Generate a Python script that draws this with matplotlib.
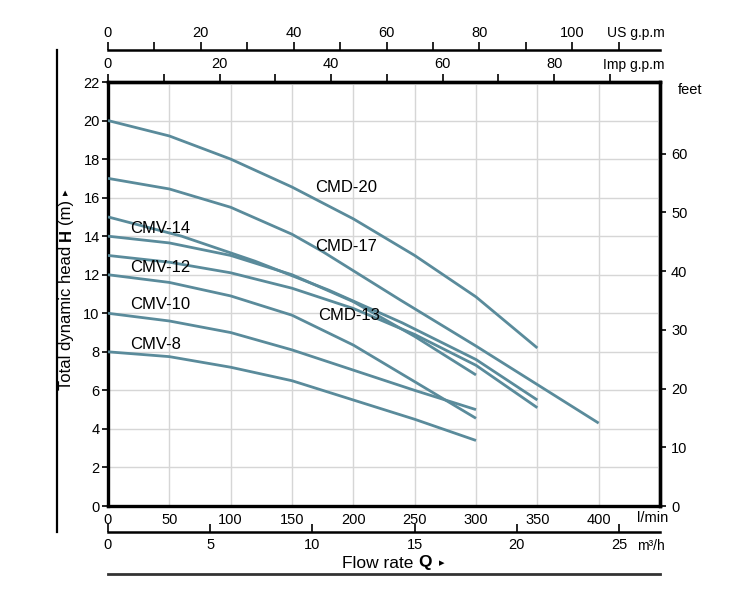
import matplotlib
matplotlib.use("Agg")
import matplotlib.pyplot as plt
from matplotlib.lines import Line2D
from matplotlib.ticker import MultipleLocator

plt.rcParams['font.family'] = ['Liberation Sans', 'DejaVu Sans']

# ---------------- data (flow in l/min, head in m) ----------------
cmd20_q = [0, 50, 100, 150, 200, 250, 300, 350]
cmd20_h = [20, 19.2, 18.0, 16.55, 14.9, 13.0, 10.85, 8.2]
cmd17_q = [0, 50, 100, 150, 175, 238, 300, 350, 400]
cmd17_h = [17, 16.45, 15.5, 14.1, 13.2, 10.7, 8.3, 6.3, 4.3]
cmd15_q = [0, 60, 120, 180, 240, 300, 350]
cmd15_h = [15, 14.0, 12.7, 11.2, 9.5, 7.6, 5.5]
cmd13_q = [0, 50, 100, 150, 200, 250, 300, 350]
cmd13_h = [13, 12.65, 12.1, 11.3, 10.25, 8.9, 7.3, 5.1]
cmv14_q = [0, 50, 100, 150, 200, 250, 300]
cmv14_h = [14, 13.65, 13.0, 12.0, 10.6, 8.8, 6.8]
cmv12_q = [0, 50, 100, 150, 200, 250, 300]
cmv12_h = [12.0, 11.6, 10.9, 9.9, 8.35, 6.45, 4.55]
cmv10_q = [0, 50, 100, 150, 200, 250, 300]
cmv10_h = [10, 9.6, 9.0, 8.1, 7.05, 6.0, 5.0]
cmv8_q = [0, 50, 100, 150, 200, 250, 300]
cmv8_h = [8, 7.75, 7.2, 6.5, 5.5, 4.5, 3.4]

lpm_ticks = [0, 50, 100, 150, 200, 250, 300, 350, 400]
head_ticks = [0, 2, 4, 6, 8, 10, 12, 14, 16, 18, 20, 22]
feet_ticks = [0, 10, 20, 30, 40, 50, 60]
us_ticks = [0, 20, 40, 60, 80, 100]
imp_ticks = [0, 20, 40, 60, 80]
m3h_ticks = [0, 5, 10, 15, 20, 25]

# unit conversions
LPM_PER_USGPM = 3.78541
LPM_PER_IMPGPM = 4.54609
LPM_PER_M3H = 1000 / 60
FT_PER_M = 3.28084

series = [
    ("CMD-20", cmd20_q, cmd20_h),
    ("CMD-17", cmd17_q, cmd17_h),
    ("", cmd15_q, cmd15_h),
    ("CMD-13", cmd13_q, cmd13_h),
    ("CMV-14", cmv14_q, cmv14_h),
    ("CMV-12", cmv12_q, cmv12_h),
    ("CMV-10", cmv10_q, cmv10_h),
    ("CMV-8", cmv8_q, cmv8_h),
]

# ---------------- layout helpers ----------------
W, H = 750, 600
fig = plt.figure(figsize=(7.5, 6), dpi=100)
fig.patch.set_facecolor('white')


def fx(px):
    return px / W


def fy(py):
    return 1 - py / H


QMAX = 450
ax = fig.add_axes([fx(108), fy(506), fx(660) - fx(108), fy(82) - fy(506)])
ax.set_xlim(0, QMAX)
ax.set_ylim(0, 22)
ax.set_xticks(lpm_ticks)
ax.set_yticks(head_ticks)
ax.grid(True, color='#d6d6d6', lw=1.0)
ax.set_axisbelow(True)
for s in ax.spines.values():
    s.set_linewidth(2.4)
    s.set_color('black')
ax.tick_params(axis='x', length=0, pad=5, labelsize=10.5)
ax.tick_params(axis='y', length=4, width=1.2, pad=2, labelsize=10.5)

LINE_COLOR = '#5a8b9b'
for name, q, h in series:
    ax.plot(q, h, color=LINE_COLOR, lw=2.0, solid_capstyle='butt',
            solid_joinstyle='round', zorder=3)

label_pos = {
    "CMD-20": (169, 16.55),
    "CMD-17": (169, 13.45),
    "CMD-13": (171, 9.9),
    "CMV-14": (18, 14.4),
    "CMV-12": (18, 12.35),
    "CMV-10": (18, 10.45),
    "CMV-8": (18, 8.4),
}
for name, q, h in series:
    if name in label_pos:
        x, y = label_pos[name]
        ax.text(x, y, name, fontsize=12, ha='left', va='center', zorder=5)

# right axis: feet
sec_r = ax.secondary_yaxis('right', functions=(lambda m: m * FT_PER_M, lambda f: f / FT_PER_M))
sec_r.set_yticks(feet_ticks)
sec_r.tick_params(length=4, width=1.2, pad=4, labelsize=10.5)
sec_r.spines['right'].set_linewidth(2.4)
fig.text(fx(690), fy(90), 'feet', ha='center', va='center', fontsize=10.5)

# top axis: Imp g.p.m
sec_t = ax.secondary_xaxis('top', functions=(lambda l: l / LPM_PER_IMPGPM, lambda g: g * LPM_PER_IMPGPM))
sec_t.set_xticks(imp_ticks)
sec_t.xaxis.set_minor_locator(MultipleLocator(10))
sec_t.tick_params(which='both', direction='out', length=6, width=1.2, pad=2, labelsize=10.5)
sec_t.spines['top'].set_linewidth(2.4)
fig.text(fx(634), fy(65), 'Imp g.p.m', ha='center', va='center', fontsize=10)

# US g.p.m axis (separate line)
ax_us = fig.add_axes([fx(108), fy(50), fx(660) - fx(108), 0.0001])
ax_us.set_xlim(0, QMAX / LPM_PER_USGPM)
for k in ['left', 'right', 'bottom']:
    ax_us.spines[k].set_visible(False)
ax_us.spines['top'].set_linewidth(1.8)
ax_us.set_yticks([])
ax_us.xaxis.set_ticks_position('top')
ax_us.set_xticks(us_ticks)
ax_us.xaxis.set_minor_locator(MultipleLocator(10))
ax_us.tick_params(which='both', direction='out', length=6, width=1.2, pad=1, labelsize=10.5)
ax_us.patch.set_visible(False)
fig.text(fx(636), fy(33), 'US g.p.m', ha='center', va='center', fontsize=10)

# l/min label
fig.text(fx(653), fy(518), 'l/min', ha='center', va='center', fontsize=10.5)

# m3/h axis
ax_m3 = fig.add_axes([fx(108), fy(532), fx(660) - fx(108), 0.0001])
ax_m3.set_xlim(0, QMAX / LPM_PER_M3H)
for k in ['left', 'right', 'top']:
    ax_m3.spines[k].set_visible(False)
ax_m3.spines['bottom'].set_linewidth(1.8)
ax_m3.set_yticks([])
ax_m3.set_xticks(m3h_ticks)
ax_m3.tick_params(direction='in', length=6, width=1.2, pad=4, labelsize=10.5)
ax_m3.patch.set_visible(False)
fig.text(fx(637), fy(546), 'm³/h', ha='left', va='center', fontsize=10)

# decorative frame lines
fig.add_artist(Line2D([fx(57), fx(57)], [fy(50), fy(532)], transform=fig.transFigure,
                      color='black', lw=1.6))
fig.add_artist(Line2D([fx(108), fx(660)], [fy(574), fy(574)], transform=fig.transFigure,
                      color='#333333', lw=2.0))

renderer = fig.canvas.get_renderer()


def rich_text(parts, x0, y0, vertical):
    pos = x0 if not vertical else y0
    for s, weight, size, gap in parts:
        pos += gap
        if vertical:
            t = fig.text(x0, pos, s, rotation=90, rotation_mode='anchor', ha='left',
                         va='center', fontsize=size, fontweight=weight)
            bb = t.get_window_extent(renderer)
            pos += bb.height / H
        else:
            t = fig.text(pos, y0, s, ha='left', va='center', fontsize=size, fontweight=weight)
            bb = t.get_window_extent(renderer)
            pos += bb.width / W


sp = 12 * 0.278 * 100 / 72
rich_text([("Total dynamic head", 'normal', 12, 0),
           ("H", 'bold', 12, sp / H),
           ("(m)", 'normal', 12, sp / H),
           ("▸", 'normal', 8, sp / H)], fx(66), fy(390), True)

rich_text([("Flow rate", 'normal', 12.5, 0),
           ("Q", 'bold', 12.5, sp / W),
           ("▸", 'normal', 8, 1.6 * sp / W)], fx(342), fy(563), False)

fig.savefig('out.png', dpi=100)
